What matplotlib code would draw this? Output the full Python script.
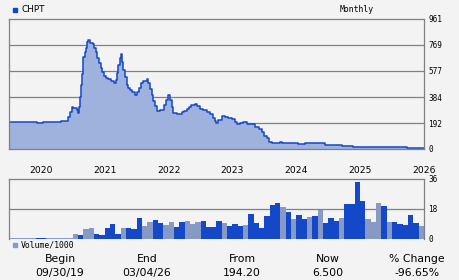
"""
CHPT monthly price chart with volume panel underneath.
Output: out.png (460x280)
"""

import matplotlib
matplotlib.use("Agg")
import matplotlib.pyplot as plt
from matplotlib.patches import Rectangle

# price trace, x in months since 09/30/19
PRICE_MONTH = [0, 5.2, 5.3, 6.4, 6.45, 9.6, 9.7, 11.0, 11.1, 11.5, 11.8, 12.1,
               12.7, 12.9, 13.2, 13.3, 13.5, 13.7, 13.85, 14.0, 14.3, 14.5,
               14.7, 14.9, 15.2, 15.7, 16.0, 16.3, 16.6, 16.9, 17.2, 17.5,
               17.9, 18.2, 18.7, 19.2, 19.7, 20.1, 20.3, 20.5, 20.8, 21.0,
               21.2, 21.5, 21.8, 22.1, 22.4, 22.7, 23.1, 23.7, 24.1, 24.5,
               24.9, 25.2, 25.9, 26.2, 26.5, 26.8, 27.1, 27.4, 27.9, 28.4,
               28.9, 29.2, 29.5, 29.9, 30.3, 30.6, 30.9, 31.5, 32.1, 32.5,
               32.9, 33.4, 33.9, 34.3, 35.0, 35.4, 35.9, 36.5, 37.2, 37.8,
               38.3, 38.7, 39.0, 39.3, 40.0, 40.6, 41.2, 41.9, 42.5, 42.9,
               43.4, 44.0, 44.7, 45.6, 46.2, 46.9, 47.5, 47.9, 48.4, 48.9,
               49.4, 50.0, 50.6, 50.9, 51.3, 54.1, 54.4, 55.3, 55.6, 57.3,
               57.5, 59.0, 59.4, 62.2, 62.5, 64.4, 64.7, 74.4, 74.8, 78.0]
PRICE = [196, 196, 190, 190, 197, 197, 210, 212, 239, 271, 313, 300,
         285, 264, 313, 387, 473, 552, 633, 682, 719, 749,
         788, 803, 785, 774, 749, 719, 670, 633, 596, 567,
         542, 527, 515, 503, 490, 510, 560, 621, 675, 700,
         645, 584, 534, 473, 453, 436, 419, 399, 419, 453,
         486, 503, 515, 486, 444, 399, 355, 320, 283, 287,
         290, 325, 362, 399, 362, 313, 264, 261, 261, 271,
         281, 296, 313, 322, 330, 318, 298, 287, 276, 259,
         231, 207, 190, 214, 246, 239, 227, 219, 202, 182,
         190, 197, 182, 182, 165, 148, 123, 99, 79, 54,
         47, 42, 47, 54, 47, 47, 35, 35, 42, 42,
         47, 47, 30, 30, 22, 22, 12, 12, 8, 6.5]

# monthly volume (thousands); 1 = blue bar, 0 = grey bar
VOLUME = [0.8, 0.8, 0.8, 0.8, 0.8, 0.8, 0.8, 0.8, 0.8, 0.8, 0.8, 0.8,
          3.0, 2.3, 6.0, 6.8, 3.0, 2.4, 6.8, 9.0, 3.0, 6.8, 6.8, 6.0,
          12.8, 8.0, 10.2, 11.4, 9.7, 8.4, 10.2, 7.2, 10.2, 10.8, 9.0, 10.2,
          10.8, 7.2, 7.2, 10.8, 9.6, 7.8, 9.0, 7.8, 8.4, 15.0, 9.6, 6.6,
          13.8, 20.4, 21.6, 19.2, 16.2, 12.0, 14.4, 12.0, 13.2, 13.8, 17.4, 9.6,
          12.6, 10.8, 12.6, 21.0, 21.0, 34.2, 22.8, 12.0, 10.2, 21.6, 19.8, 10.2,
          10.2, 9.0, 8.4, 14.4, 9.6, 7.8]
UP = [0, 0, 0, 0, 0, 1, 1, 0, 0, 0, 0, 0,
      0, 1, 0, 0, 1, 1, 1, 1, 1, 0, 1, 1,
      1, 0, 0, 1, 1, 0, 0, 1, 1, 0, 0, 0,
      1, 1, 1, 1, 0, 1, 1, 1, 0, 1, 1, 1,
      1, 1, 1, 0, 1, 0, 1, 1, 0, 1, 0, 1,
      1, 1, 0, 1, 1, 1, 1, 0, 0, 0, 1, 0,
      1, 1, 1, 1, 1, 0]

YEARS = ["2020", "2021", "2022", "2023", "2024", "2025", "2026"]
YEAR_POS = [6, 18, 30, 42, 54, 66, 78]
PRICE_TICKS = [0, 192, 384, 577, 769, 961]
VOL_TICKS = [0, 18, 36]

BG = "#f3f3f3"
BLUE = "#1448c8"
GREY = "#8799c6"
FILL = "#9fb1dd"
GRID = "#808080"

fig = plt.figure(figsize=(4.6, 2.8), dpi=100, facecolor=BG)

# price panel
ax = fig.add_axes([9 / 460, 1 - 149 / 280, 415 / 460, 130 / 280], facecolor=BG)
ax.fill_between(PRICE_MONTH, PRICE, 0, step="post", color=FILL, lw=0)
ax.step(PRICE_MONTH, PRICE, where="post", color=BLUE, lw=1.1)
ax.set_xlim(0, 78)
ax.set_ylim(0, 961)
ax.set_yticks(PRICE_TICKS)
ax.set_yticklabels([str(t) for t in PRICE_TICKS], family="DejaVu Sans Mono", fontsize=5.6)
ax.yaxis.tick_right()
ax.set_xticks(YEAR_POS)
ax.set_xticklabels(YEARS, fontsize=6.6)
ax.tick_params(length=0, axis="x", pad=12)
ax.tick_params(length=0, axis="y", pad=3)
for t in PRICE_TICKS[1:-1]:
    ax.axhline(t, color=GRID, lw=0.9, zorder=0)
for s in ax.spines.values():
    s.set_color(GRID)
    s.set_linewidth(0.9)

# volume panel
vx = fig.add_axes([9 / 460, 1 - 239 / 280, 415 / 460, 60 / 280], facecolor=BG)
colors = [BLUE if u else GREY for u in UP]
vx.bar([i + 0.5 for i in range(len(VOLUME))], VOLUME, width=1.0, color=colors, lw=0)
vx.set_xlim(0, 78)
vx.set_ylim(0, 36)
vx.set_xticks([])
vx.set_yticks(VOL_TICKS)
vx.set_yticklabels([str(t) for t in VOL_TICKS], family="DejaVu Sans Mono", fontsize=5.6)
vx.yaxis.tick_right()
vx.tick_params(length=0, axis="y", pad=3)
vx.axhline(18, color=GRID, lw=0.9, zorder=0)
for s in vx.spines.values():
    s.set_color(GRID)
    s.set_linewidth(0.9)
vx.spines["bottom"].set_visible(False)

# header
fig.patches.append(Rectangle((13 / 460, 1 - 12 / 280), 4 / 460, 4 / 280,
                             transform=fig.transFigure, color=BLUE))
fig.text(22 / 460, 1 - 9 / 280, "CHPT", fontsize=6.4, va="center")
fig.text(357 / 460, 1 - 9 / 280, "Monthly", family="DejaVu Sans Mono",
         fontsize=5.9, va="center", ha="center")

# volume legend
fig.patches.append(Rectangle((13 / 460, 1 - 247 / 280), 4 / 460, 4 / 280,
                             transform=fig.transFigure, color=GREY))
fig.text(21 / 460, 1 - 245 / 280, "Volume/1000", family="DejaVu Sans Mono",
         fontsize=5.9, va="center")

# summary row
summary = [("Begin", "09/30/19", 60), ("End", "03/04/26", 147),
           ("From", "194.20", 242), ("Now", "6.500", 328),
           ("% Change", "-96.65%", 417)]
for head, val, x in summary:
    fig.text(x / 460, 1 - 259 / 280, head, fontsize=7.8, ha="center", va="center")
    fig.text(x / 460, 1 - 273 / 280, val, fontsize=7.8, ha="center", va="center")

fig.savefig("out.png", dpi=100, facecolor=BG)
